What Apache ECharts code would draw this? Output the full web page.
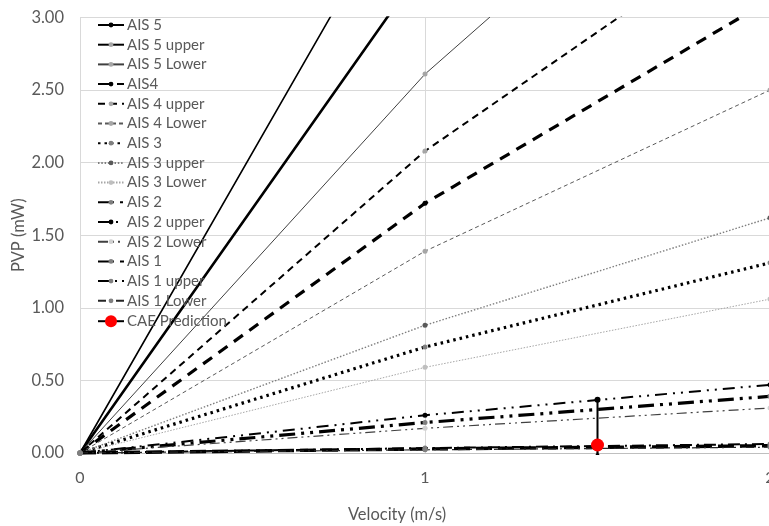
<!DOCTYPE html>
<html>
<head>
<meta charset="utf-8">
<script src="https://cdn.jsdelivr.net/npm/echarts@6/dist/echarts.min.js"></script>
<style>
  html, body { margin: 0; padding: 0; background: #fff; }
  #chart { width: 769px; height: 526px; }
</style>
</head>
<body>
<div id="chart"></div>
<script>
// Velocity samples (m/s) and PVP values (mW) for each AIS level
const velocity = [0, 1, 2];
const ais5 = [0, 3.37, 6.05];
const ais5Upper = [0, 4.14, 7.45];
const ais5Lower = [0, 2.61, 4.70];
const ais4 = [0, 1.72, 3.12];
const ais4Upper = [0, 2.08, 3.72];
const ais4Lower = [0, 1.39, 2.50];
const ais3 = [0, 0.73, 1.31];
const ais3Upper = [0, 0.88, 1.62];
const ais3Lower = [0, 0.59, 1.06];
const ais2 = [0, 0.21, 0.39];
const ais2Upper = [0, 0.26, 0.47];
const ais2Lower = [0, 0.17, 0.31];
const ais1 = [0, 0.028, 0.05];
const ais1Upper = [0, 0.034, 0.062];
const ais1Lower = [0, 0.022, 0.04];

// CAE prediction point and its error range
const caeVelocity = [1.5];
const caePvp = [0.055];
const caeErrLow = [0.0];
const caeErrHigh = [0.366];

const yTicks = [0, 0.5, 1, 1.5, 2, 2.5, 3];
const xTicks = [0, 1, 2];

const FONT = 'Lato';
const GREY_TEXT = '#595959';

function pts(values) {
  return velocity.map((v, i) => [v, values[i]]);
}

function lineSeries(name, values, width, type, lineColor, markColor, size) {
  return {
    name: name,
    type: 'line',
    data: pts(values),
    symbol: 'circle',
    symbolSize: size || 5,
    showSymbol: true,
    lineStyle: { width: width, type: type, color: lineColor, cap: 'butt' },
    itemStyle: { color: markColor },
    z: 3
  };
}

const series = [
  lineSeries('AIS 5', ais5, 2.6, 'solid', '#000', '#000'),
  lineSeries('AIS 5 upper', ais5Upper, 1.6, 'solid', '#000', '#a6a6a6'),
  lineSeries('AIS 5 Lower', ais5Lower, 1, 'solid', '#404040', '#a6a6a6'),
  lineSeries('AIS4', ais4, 3.2, [11, 8], '#000', '#000'),
  lineSeries('AIS 4 upper', ais4Upper, 2, [7, 5], '#000', '#a6a6a6'),
  lineSeries('AIS 4 Lower', ais4Lower, 1, [4, 3], '#595959', '#a6a6a6'),
  lineSeries('AIS 3', ais3, 3.2, [2.5, 4], '#000', '#7f7f7f'),
  lineSeries('AIS 3 upper', ais3Upper, 1.4, [1.5, 1.8], '#7f7f7f', '#595959'),
  lineSeries('AIS 3 Lower', ais3Lower, 1, [1.5, 1.5], '#a6a6a6', '#bfbfbf'),
  lineSeries('AIS 2', ais2, 3.2, [16, 6, 3, 6, 3, 6], '#000', '#7f7f7f'),
  lineSeries('AIS 2 upper', ais2Upper, 2, [12, 6, 2, 6, 2, 6], '#000', '#000'),
  lineSeries('AIS 2 Lower', ais2Lower, 1.2, [10, 4, 2, 4, 2, 4], '#404040', '#d0d0d0'),
  lineSeries('AIS 1', ais1, 3.4, [16, 6], '#000', '#7f7f7f'),
  lineSeries('AIS 1 upper', ais1Upper, 2, [12, 5, 2, 5], '#000', '#7f7f7f'),
  lineSeries('AIS 1 Lower', ais1Lower, 1.2, [8, 4, 2, 4], '#262626', '#7f7f7f'),
  {
    name: 'CAE Prediction',
    type: 'line',
    data: caeVelocity.map((v, i) => [v, caePvp[i]]),
    symbol: 'circle',
    symbolSize: 13,
    lineStyle: { width: 1.5, color: '#000' },
    itemStyle: { color: '#ff0000' },
    z: 6
  },
  {
    name: 'CAE range',
    type: 'line',
    data: [
      { value: [caeVelocity[0], caeErrLow[0]], symbol: 'triangle', symbolSize: 4 },
      { value: [caeVelocity[0], caeErrHigh[0]], symbol: 'circle', symbolSize: 6 }
    ],
    showSymbol: true,
    lineStyle: { width: 2, color: '#000' },
    itemStyle: { color: '#000' },
    z: 5
  }
];

const legendText = { fontFamily: FONT, fontSize: 15, lineHeight: 17.2, color: GREY_TEXT, padding: [0, 0, 0, -2] };

const chart = echarts.init(document.getElementById('chart'), null, { renderer: 'canvas' });
chart.setOption({
  animation: false,
  backgroundColor: '#fff',
  textStyle: { fontFamily: FONT },
  grid: { left: 80, width: 690, top: 17.5, bottom: 73, containLabel: false, outerBoundsMode: 'none' },
  legend: [
    {
      data: series.slice(0, 15).map(s => s.name),
      orient: 'vertical',
      left: 97,
      top: 16.4,
      padding: 0,
      itemWidth: 26,
      itemHeight: 6,
      itemGap: 2.5,
      textStyle: legendText,
      selectedMode: false
    },
    {
      data: ['CAE Prediction'],
      orient: 'vertical',
      left: 97,
      top: 312.6,
      padding: 0,
      itemWidth: 26,
      itemHeight: 15,
      textStyle: legendText,
      selectedMode: false
    }
  ],
  xAxis: {
    type: 'value',
    min: xTicks[0],
    max: xTicks[xTicks.length - 1],
    interval: 1,
    name: 'Velocity (m/s)',
    nameLocation: 'middle',
    nameGap: 53,
    nameMoveOverlap: false,
    nameTextStyle: { fontFamily: FONT, fontSize: 16.5, color: GREY_TEXT, padding: [0, 56, 0, 0] },
    axisLine: { show: true, lineStyle: { color: '#bfbfbf', width: 1 } },
    axisTick: { show: false },
    axisLabel: { fontFamily: FONT, fontSize: 16, color: GREY_TEXT, margin: 17 },
    splitLine: { show: true, lineStyle: { color: '#d9d9d9', width: 1 } }
  },
  yAxis: {
    type: 'value',
    min: yTicks[0],
    max: yTicks[yTicks.length - 1],
    interval: 0.5,
    name: 'PVP (mW)',
    nameLocation: 'middle',
    nameGap: 53,
    nameMoveOverlap: false,
    nameTextStyle: { fontFamily: FONT, fontSize: 16.5, color: GREY_TEXT },
    axisLine: { show: true, lineStyle: { color: '#d9d9d9', width: 1 } },
    axisTick: { show: false },
    axisLabel: { fontFamily: FONT, fontSize: 16.5, color: GREY_TEXT, margin: 16,
      formatter: v => v.toFixed(2) },
    splitLine: { show: true, lineStyle: { color: '#d9d9d9', width: 1 } }
  },
  series: series
});
</script>
</body>
</html>
